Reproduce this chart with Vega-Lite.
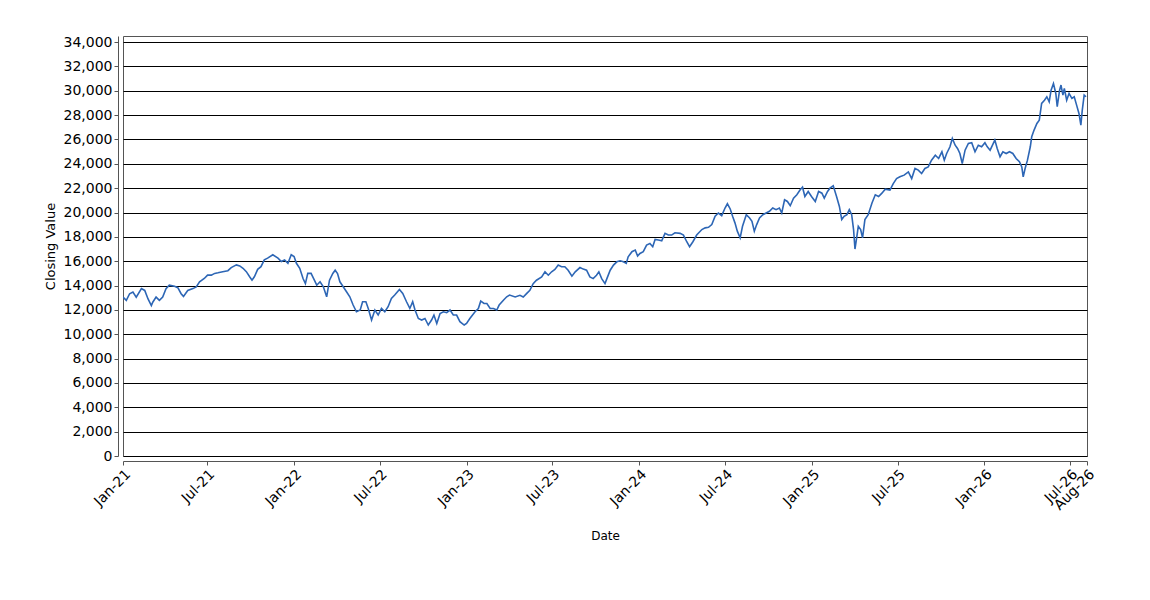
{
  "$schema": "https://vega.github.io/schema/vega-lite/v6.json",
  "width": 964,
  "height": 420,
  "autosize": "none",
  "padding": {"left": 123, "top": 36, "right": 63, "bottom": 144},
  "background": "white",
  "config": {
    "font": "DejaVu Sans",
    "view": {"stroke": "#555555", "strokeWidth": 1}
  },
  "data": {
    "values": [
      {"date": "2021-01-04", "close": 13050},
      {"date": "2021-01-11", "close": 12780},
      {"date": "2021-01-18", "close": 13330},
      {"date": "2021-01-25", "close": 13470},
      {"date": "2021-02-01", "close": 13050},
      {"date": "2021-02-12", "close": 13750},
      {"date": "2021-02-19", "close": 13600},
      {"date": "2021-02-26", "close": 12900},
      {"date": "2021-03-05", "close": 12360},
      {"date": "2021-03-08", "close": 12630},
      {"date": "2021-03-15", "close": 13050},
      {"date": "2021-03-22", "close": 12780},
      {"date": "2021-03-29", "close": 13050},
      {"date": "2021-04-05", "close": 13750},
      {"date": "2021-04-12", "close": 14030},
      {"date": "2021-04-23", "close": 13940},
      {"date": "2021-04-30", "close": 13830},
      {"date": "2021-05-07", "close": 13330},
      {"date": "2021-05-12", "close": 13110},
      {"date": "2021-05-21", "close": 13600},
      {"date": "2021-06-01", "close": 13750},
      {"date": "2021-06-08", "close": 13890},
      {"date": "2021-06-15", "close": 14300},
      {"date": "2021-06-25", "close": 14580},
      {"date": "2021-07-02", "close": 14860},
      {"date": "2021-07-10", "close": 14860},
      {"date": "2021-07-17", "close": 15000},
      {"date": "2021-07-24", "close": 15050},
      {"date": "2021-08-03", "close": 15140},
      {"date": "2021-08-14", "close": 15220},
      {"date": "2021-08-21", "close": 15470},
      {"date": "2021-09-01", "close": 15700},
      {"date": "2021-09-08", "close": 15610},
      {"date": "2021-09-15", "close": 15420},
      {"date": "2021-09-22", "close": 15140},
      {"date": "2021-09-29", "close": 14720},
      {"date": "2021-10-04", "close": 14440},
      {"date": "2021-10-09", "close": 14720},
      {"date": "2021-10-16", "close": 15330},
      {"date": "2021-10-23", "close": 15550},
      {"date": "2021-10-30", "close": 16110},
      {"date": "2021-11-06", "close": 16250},
      {"date": "2021-11-17", "close": 16530},
      {"date": "2021-11-28", "close": 16250},
      {"date": "2021-12-05", "close": 15970},
      {"date": "2021-12-12", "close": 16110},
      {"date": "2021-12-19", "close": 15830},
      {"date": "2021-12-26", "close": 16530},
      {"date": "2022-01-01", "close": 16390},
      {"date": "2022-01-06", "close": 15830},
      {"date": "2022-01-13", "close": 15420},
      {"date": "2022-01-20", "close": 14580},
      {"date": "2022-01-25", "close": 14160},
      {"date": "2022-01-30", "close": 15000},
      {"date": "2022-02-06", "close": 15000},
      {"date": "2022-02-13", "close": 14440},
      {"date": "2022-02-18", "close": 14030},
      {"date": "2022-02-25", "close": 14310},
      {"date": "2022-03-04", "close": 13900},
      {"date": "2022-03-11", "close": 13080},
      {"date": "2022-03-17", "close": 14440},
      {"date": "2022-03-24", "close": 14990},
      {"date": "2022-03-29", "close": 15260},
      {"date": "2022-04-03", "close": 14990},
      {"date": "2022-04-08", "close": 14310},
      {"date": "2022-04-15", "close": 13900},
      {"date": "2022-04-22", "close": 13490},
      {"date": "2022-04-29", "close": 13080},
      {"date": "2022-05-06", "close": 12400},
      {"date": "2022-05-13", "close": 11850},
      {"date": "2022-05-21", "close": 11990},
      {"date": "2022-05-26", "close": 12670},
      {"date": "2022-06-02", "close": 12670},
      {"date": "2022-06-07", "close": 12120},
      {"date": "2022-06-14", "close": 11170},
      {"date": "2022-06-21", "close": 11990},
      {"date": "2022-06-28", "close": 11580},
      {"date": "2022-07-05", "close": 12120},
      {"date": "2022-07-12", "close": 11850},
      {"date": "2022-07-19", "close": 12260},
      {"date": "2022-07-26", "close": 12940},
      {"date": "2022-08-02", "close": 13220},
      {"date": "2022-08-12", "close": 13680},
      {"date": "2022-08-19", "close": 13350},
      {"date": "2022-08-27", "close": 12670},
      {"date": "2022-09-03", "close": 12120},
      {"date": "2022-09-09", "close": 12670},
      {"date": "2022-09-14", "close": 11990},
      {"date": "2022-09-21", "close": 11300},
      {"date": "2022-09-28", "close": 11170},
      {"date": "2022-10-05", "close": 11300},
      {"date": "2022-10-12", "close": 10760},
      {"date": "2022-10-19", "close": 11170},
      {"date": "2022-10-24", "close": 11580},
      {"date": "2022-10-30", "close": 10890},
      {"date": "2022-11-06", "close": 11710},
      {"date": "2022-11-13", "close": 11850},
      {"date": "2022-11-20", "close": 11770},
      {"date": "2022-11-27", "close": 11990},
      {"date": "2022-12-04", "close": 11580},
      {"date": "2022-12-11", "close": 11580},
      {"date": "2022-12-18", "close": 11030},
      {"date": "2022-12-27", "close": 10760},
      {"date": "2023-01-01", "close": 10890},
      {"date": "2023-01-08", "close": 11300},
      {"date": "2023-01-19", "close": 11850},
      {"date": "2023-01-26", "close": 12120},
      {"date": "2023-01-31", "close": 12720},
      {"date": "2023-02-07", "close": 12530},
      {"date": "2023-02-13", "close": 12530},
      {"date": "2023-02-20", "close": 12120},
      {"date": "2023-02-27", "close": 12120},
      {"date": "2023-03-06", "close": 11990},
      {"date": "2023-03-11", "close": 12400},
      {"date": "2023-03-20", "close": 12800},
      {"date": "2023-03-27", "close": 13080},
      {"date": "2023-04-02", "close": 13220},
      {"date": "2023-04-14", "close": 13060},
      {"date": "2023-04-24", "close": 13200},
      {"date": "2023-05-01", "close": 13060},
      {"date": "2023-05-08", "close": 13340},
      {"date": "2023-05-15", "close": 13610},
      {"date": "2023-05-22", "close": 14160},
      {"date": "2023-05-29", "close": 14440},
      {"date": "2023-06-09", "close": 14710},
      {"date": "2023-06-16", "close": 15130},
      {"date": "2023-06-23", "close": 14850},
      {"date": "2023-06-30", "close": 15130},
      {"date": "2023-07-07", "close": 15320},
      {"date": "2023-07-14", "close": 15680},
      {"date": "2023-07-21", "close": 15540},
      {"date": "2023-07-28", "close": 15540},
      {"date": "2023-08-04", "close": 15260},
      {"date": "2023-08-12", "close": 14770},
      {"date": "2023-08-19", "close": 15130},
      {"date": "2023-08-29", "close": 15480},
      {"date": "2023-09-05", "close": 15350},
      {"date": "2023-09-12", "close": 15260},
      {"date": "2023-09-19", "close": 14710},
      {"date": "2023-09-26", "close": 14570},
      {"date": "2023-10-03", "close": 14850},
      {"date": "2023-10-08", "close": 15130},
      {"date": "2023-10-14", "close": 14570},
      {"date": "2023-10-21", "close": 14160},
      {"date": "2023-10-25", "close": 14570},
      {"date": "2023-11-01", "close": 15260},
      {"date": "2023-11-08", "close": 15680},
      {"date": "2023-11-15", "close": 15950},
      {"date": "2023-11-22", "close": 16030},
      {"date": "2023-11-29", "close": 15950},
      {"date": "2023-12-05", "close": 15820},
      {"date": "2023-12-09", "close": 16360},
      {"date": "2023-12-17", "close": 16780},
      {"date": "2023-12-24", "close": 16920},
      {"date": "2023-12-29", "close": 16420},
      {"date": "2024-01-03", "close": 16640},
      {"date": "2024-01-10", "close": 16780},
      {"date": "2024-01-17", "close": 17330},
      {"date": "2024-01-24", "close": 17460},
      {"date": "2024-01-30", "close": 17190},
      {"date": "2024-02-04", "close": 17790},
      {"date": "2024-02-11", "close": 17740},
      {"date": "2024-02-18", "close": 17680},
      {"date": "2024-02-25", "close": 18290},
      {"date": "2024-03-03", "close": 18150},
      {"date": "2024-03-10", "close": 18150},
      {"date": "2024-03-17", "close": 18340},
      {"date": "2024-03-28", "close": 18290},
      {"date": "2024-04-04", "close": 18150},
      {"date": "2024-04-11", "close": 17600},
      {"date": "2024-04-17", "close": 17190},
      {"date": "2024-04-24", "close": 17600},
      {"date": "2024-05-02", "close": 18150},
      {"date": "2024-05-13", "close": 18600},
      {"date": "2024-05-20", "close": 18740},
      {"date": "2024-05-27", "close": 18790},
      {"date": "2024-06-03", "close": 19010},
      {"date": "2024-06-10", "close": 19690},
      {"date": "2024-06-17", "close": 19960},
      {"date": "2024-06-24", "close": 19740},
      {"date": "2024-07-01", "close": 20370},
      {"date": "2024-07-06", "close": 20720},
      {"date": "2024-07-12", "close": 20290},
      {"date": "2024-07-17", "close": 19690},
      {"date": "2024-07-22", "close": 19150},
      {"date": "2024-07-27", "close": 18470},
      {"date": "2024-08-02", "close": 17920},
      {"date": "2024-08-07", "close": 18870},
      {"date": "2024-08-15", "close": 19820},
      {"date": "2024-08-22", "close": 19550},
      {"date": "2024-08-27", "close": 19280},
      {"date": "2024-09-01", "close": 18470},
      {"date": "2024-09-06", "close": 19010},
      {"date": "2024-09-12", "close": 19550},
      {"date": "2024-09-19", "close": 19820},
      {"date": "2024-09-26", "close": 19960},
      {"date": "2024-10-03", "close": 20100},
      {"date": "2024-10-10", "close": 20370},
      {"date": "2024-10-17", "close": 20230},
      {"date": "2024-10-24", "close": 20370},
      {"date": "2024-10-29", "close": 19960},
      {"date": "2024-11-04", "close": 21050},
      {"date": "2024-11-10", "close": 20910},
      {"date": "2024-11-16", "close": 20560},
      {"date": "2024-11-23", "close": 21180},
      {"date": "2024-11-30", "close": 21460},
      {"date": "2024-12-07", "close": 21870},
      {"date": "2024-12-12", "close": 22080},
      {"date": "2024-12-17", "close": 21320},
      {"date": "2024-12-24", "close": 21730},
      {"date": "2024-12-31", "close": 21320},
      {"date": "2025-01-08", "close": 20910},
      {"date": "2025-01-15", "close": 21730},
      {"date": "2025-01-22", "close": 21590},
      {"date": "2025-01-27", "close": 21180},
      {"date": "2025-02-03", "close": 21730},
      {"date": "2025-02-08", "close": 22000},
      {"date": "2025-02-15", "close": 22190},
      {"date": "2025-02-22", "close": 21320},
      {"date": "2025-02-28", "close": 20500},
      {"date": "2025-03-05", "close": 19420},
      {"date": "2025-03-10", "close": 19690},
      {"date": "2025-03-16", "close": 19820},
      {"date": "2025-03-21", "close": 20230},
      {"date": "2025-03-26", "close": 19820},
      {"date": "2025-03-30", "close": 18600},
      {"date": "2025-04-02", "close": 17000},
      {"date": "2025-04-06", "close": 18050},
      {"date": "2025-04-09", "close": 18870},
      {"date": "2025-04-14", "close": 18600},
      {"date": "2025-04-18", "close": 17920},
      {"date": "2025-04-23", "close": 19420},
      {"date": "2025-04-30", "close": 19820},
      {"date": "2025-05-08", "close": 20780},
      {"date": "2025-05-15", "close": 21460},
      {"date": "2025-05-22", "close": 21320},
      {"date": "2025-05-29", "close": 21590},
      {"date": "2025-06-05", "close": 21920},
      {"date": "2025-06-15", "close": 21840},
      {"date": "2025-06-22", "close": 22380},
      {"date": "2025-06-29", "close": 22790},
      {"date": "2025-07-06", "close": 22930},
      {"date": "2025-07-15", "close": 23070},
      {"date": "2025-07-24", "close": 23340},
      {"date": "2025-07-31", "close": 22790},
      {"date": "2025-08-07", "close": 23620},
      {"date": "2025-08-14", "close": 23480},
      {"date": "2025-08-21", "close": 23210},
      {"date": "2025-08-28", "close": 23620},
      {"date": "2025-09-04", "close": 23750},
      {"date": "2025-09-11", "close": 24300},
      {"date": "2025-09-19", "close": 24710},
      {"date": "2025-09-26", "close": 24440},
      {"date": "2025-10-03", "close": 24990},
      {"date": "2025-10-08", "close": 24300},
      {"date": "2025-10-13", "close": 24850},
      {"date": "2025-10-20", "close": 25400},
      {"date": "2025-10-25", "close": 26080},
      {"date": "2025-10-31", "close": 25530},
      {"date": "2025-11-05", "close": 25260},
      {"date": "2025-11-10", "close": 24850},
      {"date": "2025-11-15", "close": 24030},
      {"date": "2025-11-21", "close": 25120},
      {"date": "2025-11-28", "close": 25670},
      {"date": "2025-12-05", "close": 25730},
      {"date": "2025-12-12", "close": 24990},
      {"date": "2025-12-19", "close": 25530},
      {"date": "2025-12-26", "close": 25400},
      {"date": "2026-01-02", "close": 25730},
      {"date": "2026-01-07", "close": 25400},
      {"date": "2026-01-13", "close": 25120},
      {"date": "2026-01-18", "close": 25530},
      {"date": "2026-01-23", "close": 25950},
      {"date": "2026-01-28", "close": 25260},
      {"date": "2026-02-03", "close": 24580},
      {"date": "2026-02-09", "close": 24990},
      {"date": "2026-02-16", "close": 24850},
      {"date": "2026-02-23", "close": 24990},
      {"date": "2026-03-02", "close": 24850},
      {"date": "2026-03-09", "close": 24440},
      {"date": "2026-03-16", "close": 24170},
      {"date": "2026-03-21", "close": 23750},
      {"date": "2026-03-24", "close": 22930},
      {"date": "2026-03-28", "close": 23620},
      {"date": "2026-04-02", "close": 24300},
      {"date": "2026-04-08", "close": 25400},
      {"date": "2026-04-11", "close": 26220},
      {"date": "2026-04-16", "close": 26770},
      {"date": "2026-04-22", "close": 27320},
      {"date": "2026-04-27", "close": 27590},
      {"date": "2026-05-02", "close": 28960},
      {"date": "2026-05-08", "close": 29230},
      {"date": "2026-05-13", "close": 29510},
      {"date": "2026-05-18", "close": 29100},
      {"date": "2026-05-22", "close": 30050},
      {"date": "2026-05-27", "close": 30600},
      {"date": "2026-06-01", "close": 29780},
      {"date": "2026-06-04", "close": 28690},
      {"date": "2026-06-09", "close": 30050},
      {"date": "2026-06-12", "close": 30470},
      {"date": "2026-06-16", "close": 29640},
      {"date": "2026-06-19", "close": 30190},
      {"date": "2026-06-24", "close": 29230},
      {"date": "2026-06-29", "close": 29780},
      {"date": "2026-07-05", "close": 29370},
      {"date": "2026-07-10", "close": 29510},
      {"date": "2026-07-15", "close": 28820},
      {"date": "2026-07-20", "close": 28140},
      {"date": "2026-07-24", "close": 27180},
      {"date": "2026-07-27", "close": 28410},
      {"date": "2026-07-31", "close": 29640},
      {"date": "2026-08-04", "close": 29510}
    ]
  },
  "mark": {"type": "line", "color": "#2d66b5", "strokeWidth": 1.6, "clip": true},
  "encoding": {
    "x": {
      "field": "date",
      "type": "temporal",
      "title": "Date",
      "scale": {
        "domain": [
          {"year": 2021, "month": 1, "date": 4},
          {"year": 2026, "month": 8, "date": 6}
        ]
      },
      "axis": {
        "values": [
          {"year": 2021, "month": 1, "date": 4},
          {"year": 2021, "month": 7, "date": 1},
          {"year": 2022, "month": 1, "date": 1},
          {"year": 2022, "month": 7, "date": 1},
          {"year": 2023, "month": 1, "date": 1},
          {"year": 2023, "month": 7, "date": 1},
          {"year": 2024, "month": 1, "date": 1},
          {"year": 2024, "month": 7, "date": 1},
          {"year": 2025, "month": 1, "date": 1},
          {"year": 2025, "month": 7, "date": 1},
          {"year": 2026, "month": 1, "date": 1},
          {"year": 2026, "month": 7, "date": 1},
          {"year": 2026, "month": 8, "date": 6}
        ],
        "format": "%b-%y",
        "labelAngle": -45,
        "labelFontSize": 14,
        "labelColor": "#000000",
        "labelOverlap": false,
        "labelFlush": false,
        "labelPadding": 2,
        "offset": 5,
        "grid": false,
        "domainColor": "#555555",
        "tickColor": "#555555",
        "tickSize": 4,
        "titleFontSize": 12,
        "titleFontWeight": "normal",
        "titleColor": "#000000",
        "titlePadding": 18
      }
    },
    "y": {
      "field": "close",
      "type": "quantitative",
      "title": "Closing Value",
      "scale": {"domain": [0, 34500], "nice": false, "zero": true},
      "axis": {
        "values": [0, 2000, 4000, 6000, 8000, 10000, 12000, 14000, 16000, 18000, 20000, 22000, 24000, 26000, 28000, 30000, 32000, 34000],
        "format": ",d",
        "labelFontSize": 14,
        "labelColor": "#000000",
        "labelPadding": 2,
        "labelFlush": false,
        "offset": 5,
        "grid": true,
        "gridColor": "#000000",
        "gridOpacity": 1,
        "gridWidth": 1,
        "domainColor": "#555555",
        "tickColor": "#555555",
        "tickSize": 4,
        "titleFontSize": 13,
        "titleFontWeight": "normal",
        "titleColor": "#000000",
        "titlePadding": 6
      }
    }
  }
}
